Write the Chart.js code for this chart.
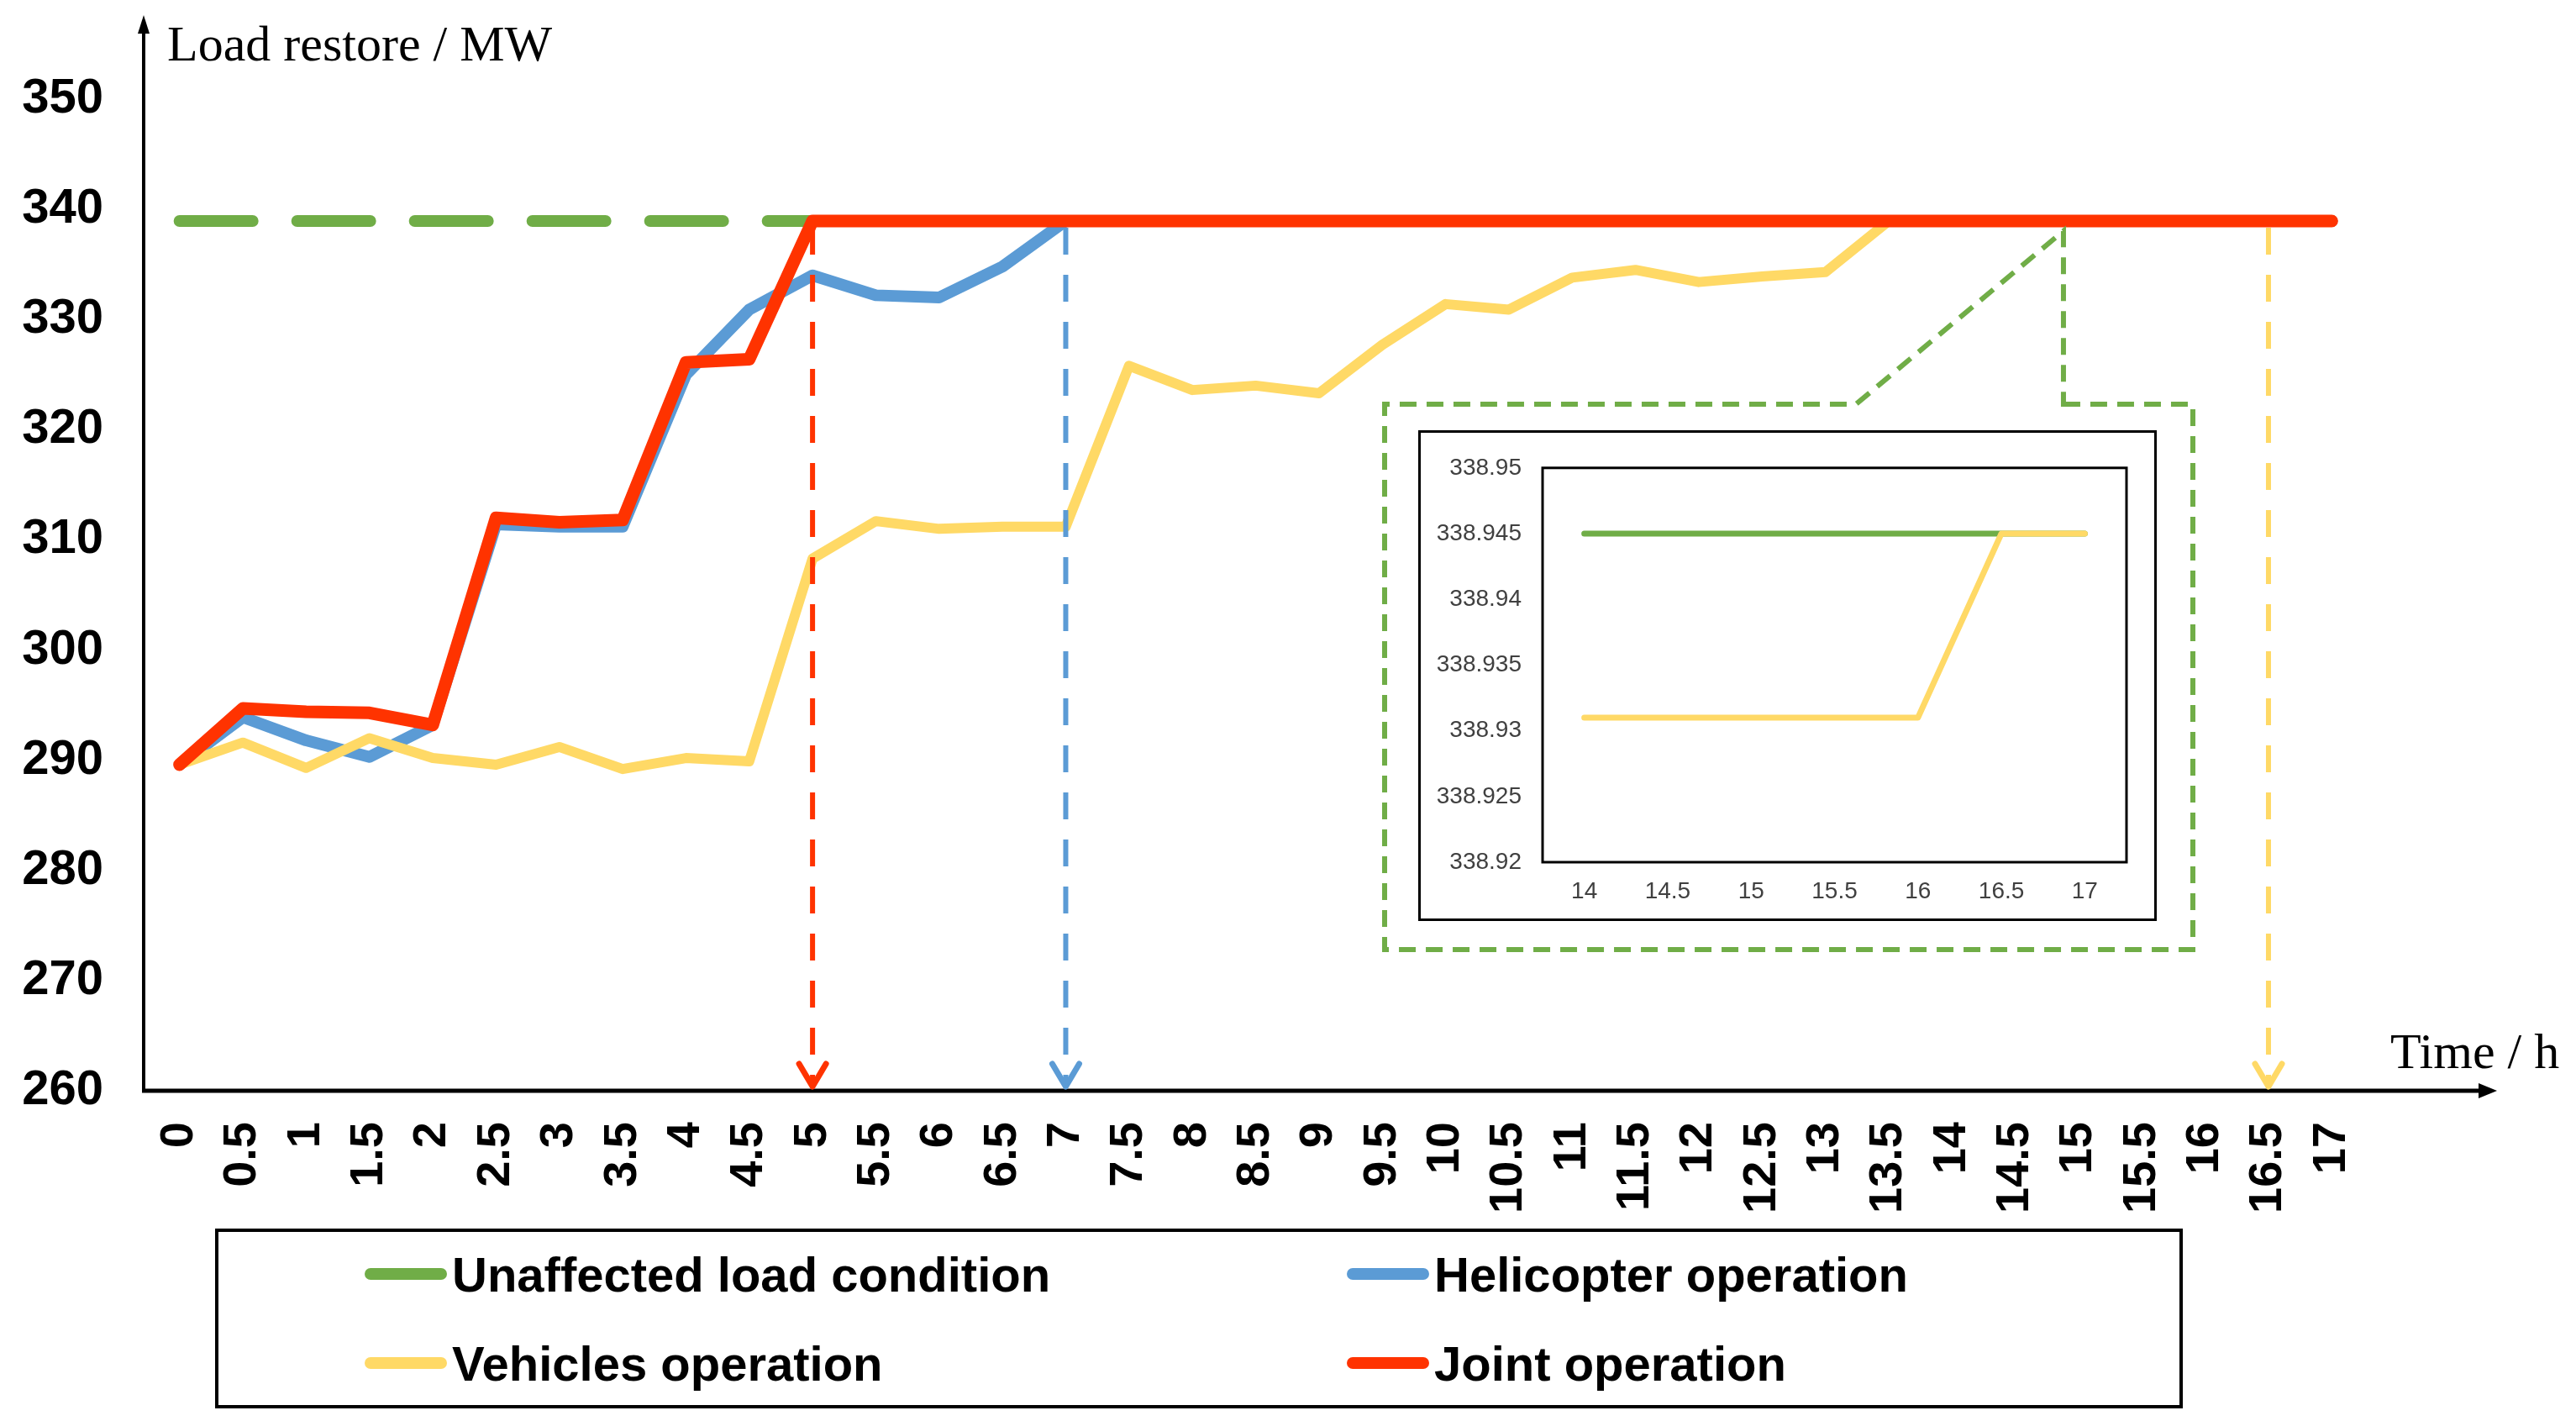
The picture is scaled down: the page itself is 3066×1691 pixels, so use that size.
<!DOCTYPE html>
<html>
<head>
<meta charset="utf-8">
<title>Load restore</title>
<script src="https://cdn.jsdelivr.net/npm/chart.js@4.4.1/dist/chart.umd.min.js"></script>
<style>
  body { margin: 0; background: #fff; }
  #wrap { position: relative; width: 3066px; height: 1691px; overflow: hidden; }
  #main { position: absolute; left: 0; top: 0; }
  #insetBox { position: absolute; left: 1688px; top: 512px; width: 873px; height: 578px; border: 3px solid #000; background: #fff; }
  #legend { position: absolute; left: 256px; top: 1462px; width: 2334px; height: 206px; border: 4px solid #000; background: #fff;
            font: bold 58px "Liberation Sans", Arial, sans-serif; color: #000; }
  .item { position: absolute; height: 70px; display: flex; align-items: center; white-space: nowrap; }
  .swatch { width: 98px; height: 14px; border-radius: 7px; margin-right: 6px; }
</style>
</head>
<body>
<div id="wrap">
  <canvas id="main" width="3066" height="1691"></canvas>
  <div id="insetBox"><canvas id="inset" width="873" height="578"></canvas></div>
  <div id="legend"></div>
</div>
<script>
const timeLabels = ['0', '0.5', '1', '1.5', '2', '2.5', '3', '3.5', '4', '4.5', '5', '5.5', '6', '6.5', '7', '7.5', '8', '8.5',
  '9', '9.5', '10', '10.5', '11', '11.5', '12', '12.5', '13', '13.5', '14', '14.5', '15', '15.5', '16', '16.5', '17'];

const unaffectedLoad = [338.945, 338.945, 338.945, 338.945, 338.945, 338.945, 338.945, 338.945, 338.945, 338.945,
  338.945, 338.945, 338.945, 338.945, 338.945, 338.945, 338.945, 338.945, 338.945, 338.945,
  338.945, 338.945, 338.945, 338.945, 338.945, 338.945, 338.945, 338.945, 338.945, 338.945,
  338.945, 338.945, 338.945, 338.945, 338.945];

const helicopterLoad = [289.6, 293.9, 291.8, 290.3, 293.2, 311.4, 311.2, 311.2, 325.0, 330.9,
  334.0, 332.2, 332.0, 334.8, 338.945, 338.945, 338.945, 338.945, 338.945, 338.945,
  338.945, 338.945, 338.945, 338.945, 338.945, 338.945, 338.945, 338.945, 338.945, 338.945,
  338.945, 338.945, 338.945, 338.945, 338.945];

const vehiclesLoad = [289.6, 291.6, 289.3, 292.0, 290.2, 289.6, 291.2, 289.2, 290.2, 289.9,
  308.3, 311.7, 311.0, 311.2, 311.2, 325.8, 323.6, 324.0, 323.3, 327.7,
  331.4, 330.9, 333.8, 334.5, 333.4, 333.9, 334.3, 338.931, 338.931, 338.931,
  338.931, 338.931, 338.931, 338.945, 338.945];

const jointLoad = [289.6, 294.7, 294.4, 294.3, 293.2, 312.0, 311.6, 311.8, 326.1, 326.4,
  338.945, 338.945, 338.945, 338.945, 338.945, 338.945, 338.945, 338.945, 338.945, 338.945,
  338.945, 338.945, 338.945, 338.945, 338.945, 338.945, 338.945, 338.945, 338.945, 338.945,
  338.945, 338.945, 338.945, 338.945, 338.945];

// time at which each strategy has restored the full load
const restoreTimes = ['5', '7', '16.5'];
const restoreColors = ['#FF3300', '#5B9BD5', '#FFD966'];

const yTitle = 'Load restore / MW';
const xTitle = 'Time / h';
const yMin = 260, yMax = 350, yStep = 10;

// zoomed view
const insetStart = '14';
const insetMin = 338.92, insetMax = 338.95, insetStep = 0.005;

const GREEN = '#70AD47', BLUE = '#5B9BD5', YELLOW = '#FFD966', RED = '#FF3300';
const SANS = '"Liberation Sans", Arial, sans-serif';
const SERIF = '"Liberation Serif", "Times New Roman", serif';

const fullLoad = unaffectedLoad[0];

function drawArrowHead(ctx, tipX, tipY, dx, dy, half) {
  // filled triangle, (dx, dy) is the unit direction of the arrow
  const bx = tipX - dx * 22, by = tipY - dy * 22;
  ctx.beginPath();
  ctx.moveTo(tipX, tipY);
  ctx.lineTo(bx - dy * half, by + dx * half);
  ctx.lineTo(bx + dy * half, by - dx * half);
  ctx.closePath();
  ctx.fill();
}

const mainDecor = {
  id: 'mainDecor',
  beforeDatasetsDraw(chart) {
    const { ctx, chartArea: a } = chart;
    const axisX = a.left - 5, axisY = a.bottom;
    ctx.save();
    ctx.strokeStyle = '#000';
    ctx.fillStyle = '#000';
    ctx.lineWidth = 4;
    ctx.beginPath();
    ctx.moveTo(axisX, axisY);
    ctx.lineTo(axisX, 36);
    ctx.stroke();
    drawArrowHead(ctx, axisX, 18, 0, -1, 7);

    ctx.lineWidth = 5;
    ctx.beginPath();
    ctx.moveTo(axisX - 2, axisY);
    ctx.lineTo(2952, axisY);
    ctx.stroke();
    drawArrowHead(ctx, 2972, axisY, 1, 0, 9);

    ctx.font = '60px ' + SERIF;
    ctx.textBaseline = 'alphabetic';
    ctx.textAlign = 'left';
    ctx.fillText(yTitle, 199, 72);
    ctx.fillText(xTitle, 2845, 1271);
    ctx.restore();
  },
  afterDatasetsDraw(chart) {
    const { ctx, chartArea: a, scales: { x, y } } = chart;
    const axisY = a.bottom;
    const topY = y.getPixelForValue(fullLoad);
    ctx.save();

    restoreTimes.forEach((t, i) => {
      const px = x.getPixelForValue(timeLabels.indexOf(t));
      ctx.strokeStyle = restoreColors[i];
      ctx.lineWidth = 6;
      ctx.setLineDash([32, 24]);
      ctx.beginPath();
      ctx.moveTo(px, topY + 8);
      ctx.lineTo(px, axisY - 8);
      ctx.stroke();
      ctx.setLineDash([]);
      ctx.lineWidth = 7;
      ctx.lineCap = 'round';
      ctx.lineJoin = 'round';
      ctx.beginPath();
      ctx.moveTo(px - 16, axisY - 32);
      ctx.lineTo(px, axisY - 5);
      ctx.lineTo(px + 16, axisY - 32);
      ctx.stroke();
      ctx.lineCap = 'butt';
    });

    // dashed callout around the zoomed view
    const box = { l: 1648, t: 481, r: 2610, b: 1130 };
    const tipX = x.getPixelForValue(timeLabels.indexOf('15')) - 18;
    const tipY = topY + 12;
    ctx.strokeStyle = GREEN;
    ctx.lineWidth = 6;
    ctx.lineJoin = 'miter';
    ctx.setLineDash([20, 12]);
    ctx.beginPath();
    ctx.moveTo(tipX, box.t);
    ctx.lineTo(box.r, box.t);
    ctx.lineTo(box.r, box.b);
    ctx.lineTo(box.l, box.b);
    ctx.lineTo(box.l, box.t);
    ctx.lineTo(2209, box.t);
    ctx.lineTo(tipX, tipY);
    ctx.closePath();
    ctx.stroke();
    ctx.restore();
  }
};

function series(label, data, color, width, order, dash) {
  return {
    label,
    data,
    borderColor: color,
    backgroundColor: color,
    borderWidth: width,
    borderDash: dash || [],
    borderCapStyle: 'round',
    borderJoinStyle: 'round',
    pointRadius: 0,
    pointHoverRadius: 0,
    tension: 0,
    fill: false,
    order
  };
}

const mainSeries = [
  series('Unaffected load condition', unaffectedLoad, GREEN, 14, 4, [87, 53]),
  series('Helicopter operation', helicopterLoad, BLUE, 14, 3),
  series('Vehicles operation', vehiclesLoad, YELLOW, 12, 2),
  series('Joint operation', jointLoad, RED, 15, 1)
];

new Chart(document.getElementById('main'), {
  type: 'line',
  data: { labels: timeLabels, datasets: mainSeries },
  options: {
    responsive: false,
    animation: false,
    devicePixelRatio: 1,
    layout: { padding: { top: 118, right: 253, left: 0, bottom: 0 } },
    plugins: { legend: { display: false }, tooltip: { enabled: false } },
    scales: {
      x: {
        type: 'category',
        offset: true,
        grid: { display: false, drawTicks: false },
        border: { display: false },
        ticks: {
          autoSkip: false,
          minRotation: 90,
          maxRotation: 90,
          padding: 37,
          color: '#000',
          font: { family: SANS, size: 56, weight: 'bold' }
        },
        afterFit(scale) { scale.height = 393; }
      },
      y: {
        min: yMin,
        max: yMax,
        grid: { display: false, drawTicks: false },
        border: { display: false },
        ticks: {
          stepSize: yStep,
          padding: 53,
          color: '#000',
          font: { family: SANS, size: 58, weight: 'bold' }
        },
        afterFit(scale) { scale.width = 176; }
      }
    }
  },
  plugins: [mainDecor]
});

// zoomed view of the last hours
const from = timeLabels.indexOf(insetStart);
const insetBorder = {
  id: 'insetBorder',
  afterDraw(chart) {
    const { ctx, chartArea: a } = chart;
    ctx.save();
    ctx.strokeStyle = '#000';
    ctx.lineWidth = 3;
    ctx.strokeRect(a.left, a.top, a.right - a.left, a.bottom - a.top);
    ctx.restore();
  }
};

new Chart(document.getElementById('inset'), {
  type: 'line',
  data: {
    labels: timeLabels.slice(from),
    datasets: [
      series('Unaffected load condition', unaffectedLoad.slice(from), GREEN, 7, 2),
      series('Vehicles operation', vehiclesLoad.slice(from), YELLOW, 7, 1)
    ]
  },
  options: {
    responsive: false,
    animation: false,
    devicePixelRatio: 1,
    layout: { padding: { top: 34, right: 33, left: 0, bottom: 0 } },
    plugins: { legend: { display: false }, tooltip: { enabled: false } },
    scales: {
      x: {
        type: 'category',
        offset: true,
        grid: { display: false, drawTicks: false },
        border: { display: false },
        ticks: { autoSkip: false, maxRotation: 0, padding: 18, color: '#404040', font: { family: SANS, size: 28 } },
        afterFit(scale) { scale.height = 67; }
      },
      y: {
        min: insetMin,
        max: insetMax,
        grid: { display: false, drawTicks: false },
        border: { display: false },
        ticks: {
          stepSize: insetStep,
          padding: 25,
          color: '#404040',
          font: { family: SANS, size: 28 },
          callback: (v) => String(Number(Number(v).toFixed(3)))
        },
        afterFit(scale) { scale.width = 145; }
      }
    }
  },
  plugins: [insetBorder]
});

// legend: two columns, two rows, in series order
const legend = document.getElementById('legend');
const legendCols = [174, 1343];
const legendRows = [15, 121];
mainSeries.forEach((ds, i) => {
  const item = document.createElement('div');
  item.className = 'item';
  item.style.left = legendCols[i % 2] + 'px';
  item.style.top = legendRows[Math.floor(i / 2)] + 'px';
  const swatch = document.createElement('span');
  swatch.className = 'swatch';
  swatch.style.background = ds.borderColor;
  const text = document.createElement('span');
  text.textContent = ds.label;
  item.appendChild(swatch);
  item.appendChild(text);
  legend.appendChild(item);
});
</script>
</body>
</html>
